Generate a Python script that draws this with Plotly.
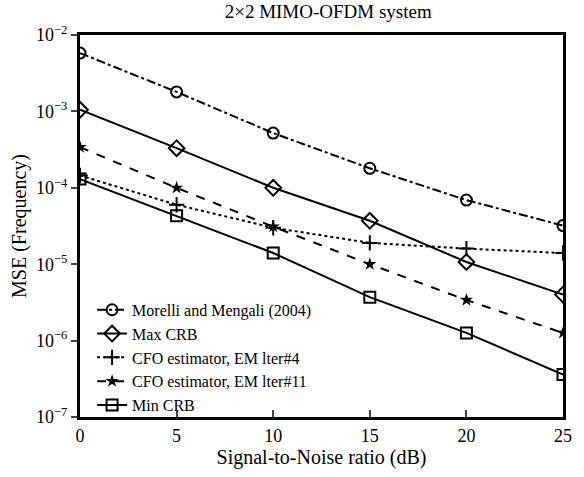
import plotly.graph_objects as go

snr = [0, 5, 10, 15, 20, 25]
morelli = [5.8e-3, 1.8e-3, 5.2e-4, 1.8e-4, 6.9e-5, 3.2e-5]
max_crb = [1.05e-3, 3.3e-4, 1.0e-4, 3.7e-5, 1.07e-5, 4.0e-6]
em_iter4 = [1.45e-4, 6.0e-5, 3.0e-5, 1.9e-5, 1.6e-5, 1.4e-5]
em_iter11 = [3.4e-4, 1.0e-4, 3.1e-5, 1.0e-5, 3.4e-6, 1.26e-6]
min_crb = [1.3e-4, 4.3e-5, 1.4e-5, 3.7e-6, 1.26e-6, 3.6e-7]

names = ["Morelli and Mengali (2004)", "Max CRB", "CFO estimator, EM lter#4",
         "CFO estimator, EM lter#11", "Min CRB"]
ytick_vals = [1e-7, 1e-6, 1e-5, 1e-4, 1e-3, 1e-2]
ytick_text = ["10<sup>−7</sup>", "10<sup>−6</sup>", "10<sup>−5</sup>",
              "10<sup>−4</sup>", "10<sup>−3</sup>", "10<sup>−2</sup>"]
xtick_vals = [0, 5, 10, 15, 20, 25]

FONT = "'Times New Roman', 'Liberation Serif', serif"
fig = go.Figure()

series = [
    (morelli, names[0], "dashdot", dict(symbol="circle-open", size=11, line=dict(width=2))),
    (max_crb, names[1], "solid", dict(symbol="diamond-open", size=12, line=dict(width=2))),
    (em_iter4, names[2], "dot", dict(symbol="cross-thin-open", size=11, line=dict(width=2))),
    (em_iter11, names[3], "dash", dict(symbol="star", size=10, line=dict(width=0))),
    (min_crb, names[4], "solid", dict(symbol="square-open", size=11, line=dict(width=2))),
]
for ys, nm, dash, mk in series:
    mk = dict(mk, color="black")
    fig.add_trace(go.Scatter(x=snr, y=ys, name=nm, mode="lines+markers",
                             line=dict(color="black", width=2, dash=dash),
                             marker=mk))

fig.update_layout(
    width=584, height=477,
    margin=dict(l=80, r=21, t=35, b=60),
    paper_bgcolor="white", plot_bgcolor="white",
    font=dict(family=FONT, color="black", size=18),
    title=dict(text="2×2 MIMO-OFDM system", x=0.562, xanchor="center",
               y=0.99, yanchor="top", font=dict(size=19, family=FONT)),
    showlegend=True,
    legend=dict(x=0.025, y=0.325, xanchor="left", yanchor="top",
                bgcolor="rgba(0,0,0,0)", font=dict(size=16, family=FONT),
                tracegroupgap=0, itemwidth=30),
)
fig.update_xaxes(range=[0, 25], tickvals=xtick_vals, ticks="inside", ticklen=7,
                 tickwidth=2, showline=True, linewidth=3, linecolor="black",
                 mirror=True, showgrid=False, zeroline=False,
                 title=dict(text="Signal-to-Noise ratio (dB)", standoff=6,
                            font=dict(size=20, family=FONT)),
                 tickfont=dict(size=18, family=FONT))
fig.update_yaxes(type="log", range=[-7, -2], tickvals=ytick_vals, ticktext=ytick_text,
                 ticks="outside", ticklen=6, tickwidth=2, showline=True, linewidth=3,
                 linecolor="black", mirror=True, showgrid=False, zeroline=False,
                 title=dict(text="MSE (Frequency)", standoff=4, font=dict(size=20, family=FONT)),
                 tickfont=dict(size=18, family=FONT))

fig.write_html("out.html")
